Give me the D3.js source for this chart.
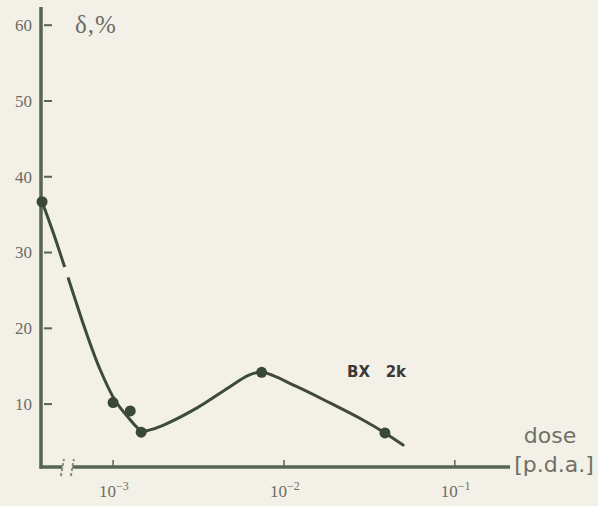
<html>
<head>
	<title>BX 2k</title>
	<style>
body {
	margin: 0;
	background: #f3f1e7;
}

svg {
	display: block;
	background: #f3f1e7;
}

.axis-line {
	stroke: #56664f;
	stroke-width: 3.5;
	fill: none;
}

.tick {
	stroke: #56664f;
	stroke-width: 2;
}

.label {
	fill: #6c6c64;
	font-family: "Liberation Serif", serif;
}

.fit {
	fill: none;
	stroke: #3e4b3c;
	stroke-width: 3;
	stroke-linecap: round;
}

.point {
	fill: #3a4838;
}
</style>
</head>

<body>
	<div id="div"></div>

	<script src="https://d3js.org/d3.v7.min.js"></script>

	<script>

// measured points: dose [p.d.a.] and delta [%]
const pointDose = [3.84e-4, 1.0e-3, 1.26e-3, 1.46e-3, 7.4e-3, 3.9e-2];
const pointDelta = [36.7, 10.2, 9.1, 6.3, 14.2, 6.2];

// smooth curve drawn through the points
const curveDose = [3.84e-4, 4.45e-4, 5.22e-4, 5.98e-4, 6.85e-4, 8.38e-4, 1.026e-3, 1.22e-3,
	1.476e-3, 1.644e-3, 1.96e-3, 3.1e-3, 4.83e-3, 6.2e-3, 7.45e-3, 1.19e-2, 1.86e-2,
	2.9e-2, 3.9e-2, 4.98e-2];
const curveDelta = [36.7, 32.7, 28.0, 23.9, 19.9, 14.6, 10.5, 8.3,
	6.45, 6.6, 7.2, 9.5, 12.3, 13.8, 14.2, 12.3, 10.15,
	7.9, 6.2, 4.6];

// ticks
const yTicks = [10, 20, 30, 40, 50, 60];
const xTickExp = [-3, -2, -1];

// axis break on dose axis, and gap in the curve
const axisBreakDose = 5.4e-4;
const curveGap = [5.3e-4, 27.4];

const width = 598;
const height = 506;

const svg = d3.select('#div').append('svg')
	.attr('width', width)
	.attr('height', height);

// log dose axis, linear delta axis
const x = d3.scaleLog()
	.domain([Math.pow(10, -3.422), Math.pow(10, -0.677)])
	.range([41, 510]);

const y = d3.scaleLinear()
	.domain([1.7, 62.4])
	.range([467, 7]);

const x0 = x.range()[0];
const y0 = y.range()[0];

// axes
svg.append('line')
	.attr('class', 'axis-line')
	.attr('x1', x0).attr('x2', x0)
	.attr('y1', y.range()[1]).attr('y2', y0 + 1.5);

svg.append('line')
	.attr('class', 'axis-line')
	.attr('x1', x0 - 1.5).attr('x2', x.range()[1])
	.attr('y1', y0).attr('y2', y0);

// y ticks and labels
svg.selectAll('.ytick')
	.data(yTicks)
	.enter()
	.append('line')
	.attr('class', 'tick')
	.attr('x1', x0 + 3).attr('x2', x0 + 11)
	.attr('y1', d => y(d)).attr('y2', d => y(d));

svg.selectAll('.ylab')
	.data(yTicks)
	.enter()
	.append('text')
	.attr('class', 'label')
	.attr('x', x0 - 9)
	.attr('y', d => y(d))
	.attr('dy', '0.35em')
	.attr('text-anchor', 'end')
	.style('font-size', '17px')
	.text(d => d);

// x ticks and labels
svg.selectAll('.xtick')
	.data(xTickExp)
	.enter()
	.append('line')
	.attr('class', 'tick')
	.style('stroke-width', 1.5)
	.attr('x1', d => x(Math.pow(10, d))).attr('x2', d => x(Math.pow(10, d)))
	.attr('y1', y0 - 7).attr('y2', y0);

const xlab = svg.selectAll('.xlab')
	.data(xTickExp)
	.enter()
	.append('text')
	.attr('class', 'label')
	.attr('x', d => x(Math.pow(10, d)) - 14)
	.attr('y', y0 + 30)
	.style('font-size', '17px');
xlab.append('tspan').text('10');
xlab.append('tspan')
	.attr('dy', -7)
	.style('font-size', '12px')
	.text(d => '\u2212' + Math.abs(d));

// axis break marks
const bx = x(axisBreakDose);
svg.append('rect')
	.attr('x', bx - 5).attr('y', y0 - 3)
	.attr('width', 10).attr('height', 6)
	.attr('fill', '#f3f1e7');
[-5, 5].forEach(off => {
	svg.append('line')
		.attr('x1', bx + off - 1.5).attr('x2', bx + off + 1.5)
		.attr('y1', y0 + 9).attr('y2', y0 - 8)
		.attr('stroke', '#8a8a80')
		.attr('stroke-width', 2)
		.attr('stroke-dasharray', '3,2');
});

// fitted curve
const line = d3.line()
	.x((d, i) => x(curveDose[i]))
	.y((d, i) => y(curveDelta[i]))
	.curve(d3.curveCatmullRom.alpha(0.5));

svg.append('path')
	.datum(curveDose)
	.attr('class', 'fit')
	.attr('d', line);

// small gap in the curve
svg.append('circle')
	.attr('cx', x(curveGap[0]))
	.attr('cy', y(curveGap[1]))
	.attr('r', 5.5)
	.attr('fill', '#f3f1e7');

// measured points
svg.selectAll('.point')
	.data(pointDose)
	.enter()
	.append('circle')
	.attr('class', 'point')
	.attr('cx', (d, i) => x(d))
	.attr('cy', (d, i) => y(pointDelta[i]))
	.attr('r', 5.5);

// labels
svg.append('text')
	.attr('class', 'label')
	.attr('x', 75).attr('y', 33)
	.style('font-size', '25px')
	.style('letter-spacing', '1px')
	.text('\u03b4,%');

svg.append('text')
	.attr('x', 347).attr('y', 377)
	.attr('fill', '#3a3a36')
	.style('font-family', '"DejaVu Sans", sans-serif')
	.style('font-weight', 'bold')
	.style('font-size', '15px')
	.text('BX\u00a0\u00a0 2k');

svg.append('text')
	.attr('fill', '#707068')
	.attr('x', 550).attr('y', 443)
	.attr('text-anchor', 'middle')
	.style('font-family', '"DejaVu Sans", sans-serif')
	.style('font-size', '22px')
	.text('dose');

svg.append('text')
	.attr('fill', '#707068')
	.attr('x', 554).attr('y', 472)
	.attr('text-anchor', 'middle')
	.style('font-family', '"DejaVu Sans", sans-serif')
	.style('font-size', '22px')
	.text('[p.d.a.]');

</script>
</body>
</html>
